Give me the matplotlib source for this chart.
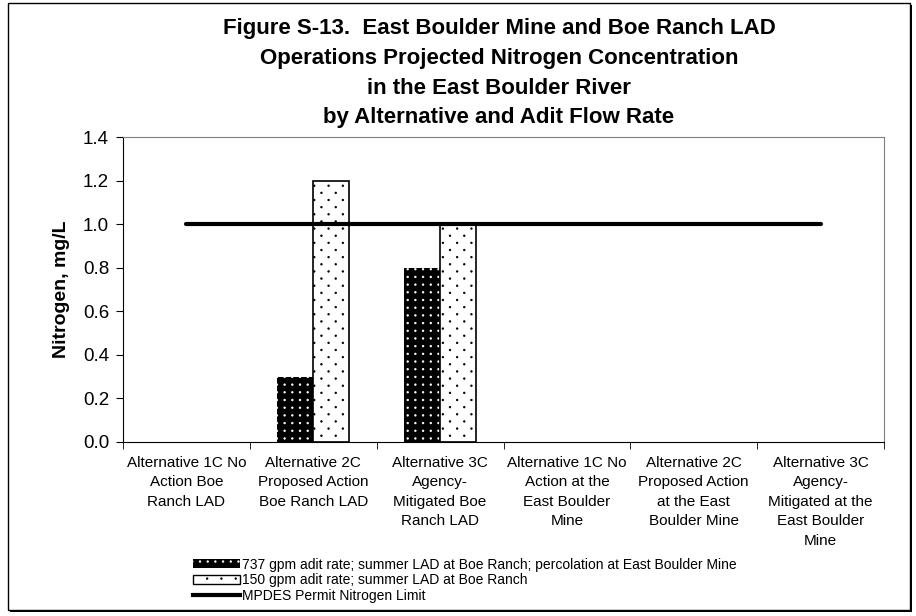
import matplotlib
matplotlib.use("Agg")
import matplotlib.pyplot as plt
import matplotlib.hatch as mhatch
from matplotlib.path import Path
import numpy as np
from matplotlib.patches import Patch, Rectangle
from matplotlib.lines import Line2D
from matplotlib.ticker import FormatStrFormatter

plt.rcParams['font.family'] = ['Liberation Sans', 'DejaVu Sans']
plt.rcParams['hatch.linewidth'] = 0.6

categories = [
    "Alternative 1C No\nAction Boe\nRanch LAD",
    "Alternative 2C\nProposed Action\nBoe Ranch LAD",
    "Alternative 3C\nAgency-\nMitigated Boe\nRanch LAD",
    "Alternative 1C No\nAction at the\nEast Boulder\nMine",
    "Alternative 2C\nProposed Action\nat the East\nBoulder Mine",
    "Alternative 3C\nAgency-\nMitigated at the\nEast Boulder\nMine",
]
series_737 = [0.0, 0.3, 0.8, 0.0, 0.0, 0.0]
series_150 = [0.0, 1.2, 1.0, 0.0, 0.0, 0.0]
permit_limit = [1.0, 1.0, 1.0, 1.0, 1.0, 1.0]
yticks = [0.0, 0.2, 0.4, 0.6, 0.8, 1.0, 1.2, 1.4]
label_737 = "737 gpm adit rate; summer LAD at Boe Ranch; percolation at East Boulder Mine"
label_150 = "150 gpm adit rate; summer LAD at Boe Ranch"
label_limit = "MPDES Permit Nitrogen Limit"
title_lines = [
    "Figure S-13.  East Boulder Mine and Boe Ranch LAD",
    "Operations Projected Nitrogen Concentration",
    "in the East Boulder River",
    "by Alternative and Adit Flow Rate",
]


# --- custom dot hatch lattices (styling only) ---
class DotLattice(mhatch.HatchPatternBase):
    radius = 0.0075

    def __init__(self, hatch, density):
        n = hatch.count('.')
        self.points = []
        if n == 1:      # sparse staggered dots
            nr, nc = 14, 7
            for r in range(nr + 1):
                y = r / nr
                if r % 2 == 0:
                    xs = np.linspace(0, 1, nc + 1)
                else:
                    xs = np.linspace(0.5 / nc, 1 - 0.5 / nc, nc)
                self.points += [(xx, y) for xx in xs]
        elif n >= 2:    # dense regular grid
            nr = 13
            for r in range(nr + 1):
                for c in range(nr + 1):
                    self.points.append((c / nr, r / nr))
        circ = Path.unit_circle()
        self.shape_vertices = circ.vertices
        self.shape_codes = circ.codes
        self.num_vertices = len(self.points) * len(self.shape_vertices)

    def set_vertices_and_codes(self, vertices, codes):
        k = len(self.shape_vertices)
        sv = self.shape_vertices * self.radius
        for i, (px, py) in enumerate(self.points):
            vertices[i * k:(i + 1) * k] = sv + (px, py)
            codes[i * k:(i + 1) * k] = self.shape_codes


mhatch._hatch_types = [t for t in mhatch._hatch_types
                       if t is not mhatch.SmallFilledCircles] + [DotLattice]

W, H = 916, 616
fig = plt.figure(figsize=(W / 100, H / 100), dpi=100)
ax = fig.add_axes([123 / W, 1 - 442 / H, (884 - 123) / W, (442 - 137) / H])

x = np.arange(len(categories))
bw = 0.2857
b1 = ax.bar(x - bw / 2, series_737, width=bw, color='black', edgecolor='white',
            hatch='..', linewidth=0, zorder=2)
b2 = ax.bar(x + bw / 2, series_150, width=bw, color='white', edgecolor='black',
            hatch='.', linewidth=1.2, zorder=2)
for p in list(b1) + list(b2):
    if p.get_height() == 0:
        p.set_visible(False)
ax.plot(x, permit_limit, color='black', linewidth=3.0, zorder=3,
        solid_capstyle='round')

ax.set_xlim(-0.5, len(categories) - 0.5)
ax.set_ylim(0, 1.4)
ax.set_yticks(yticks)
ax.yaxis.set_major_formatter(FormatStrFormatter('%.1f'))
ax.tick_params(axis='y', labelsize=13.5, length=5, direction='out', pad=5)

ax.set_xticks(x)
ax.set_xticklabels(categories, fontsize=11, va='top', linespacing=1.5)
ax.tick_params(axis='x', length=0, pad=10)
ax.set_xticks(np.arange(len(categories) + 1) - 0.5, minor=True)
ax.tick_params(axis='x', which='minor', length=5, direction='out')

ax.set_ylabel("Nitrogen, mg/L", fontsize=14, fontweight='bold', labelpad=9)

for s in ['top', 'right']:
    ax.spines[s].set_color('#808080')
for s in ['left', 'bottom']:
    ax.spines[s].set_color('black')

title_base = [34, 64, 94, 123]
for line, yy in zip(title_lines, title_base):
    fig.text(499 / W, 1 - yy / H, line, ha='center', va='baseline',
             fontsize=16, fontweight='bold')

handles = [
    Patch(facecolor='black', edgecolor='white', hatch='..', linewidth=0),
    Patch(facecolor='white', edgecolor='black', hatch='.', linewidth=1),
    Line2D([0], [0], color='black', linewidth=3.0),
]
leg = fig.legend(handles, [label_737, label_150, label_limit],
                 loc='upper left', bbox_to_anchor=(187 / W, 1 - 552 / H),
                 frameon=False, fontsize=10, handlelength=3.4, handleheight=0.6,
                 handletextpad=0.15, labelspacing=0.12, borderaxespad=0)

# figure border with shadow
fig.patches.append(Rectangle((8 / W, 1 - 610 / H), (910 - 8) / W, (610 - 3) / H,
                             transform=fig.transFigure, fill=False,
                             edgecolor='black', linewidth=1))
fig.patches.append(Rectangle((10 / W, 1 - 612 / H), (912 - 10) / W, 2 / H,
                             transform=fig.transFigure, facecolor='black',
                             edgecolor='none'))
fig.patches.append(Rectangle((910 / W, 1 - 612 / H), 2 / W, (612 - 5) / H,
                             transform=fig.transFigure, facecolor='black',
                             edgecolor='none'))

fig.savefig("out.png", dpi=100)
